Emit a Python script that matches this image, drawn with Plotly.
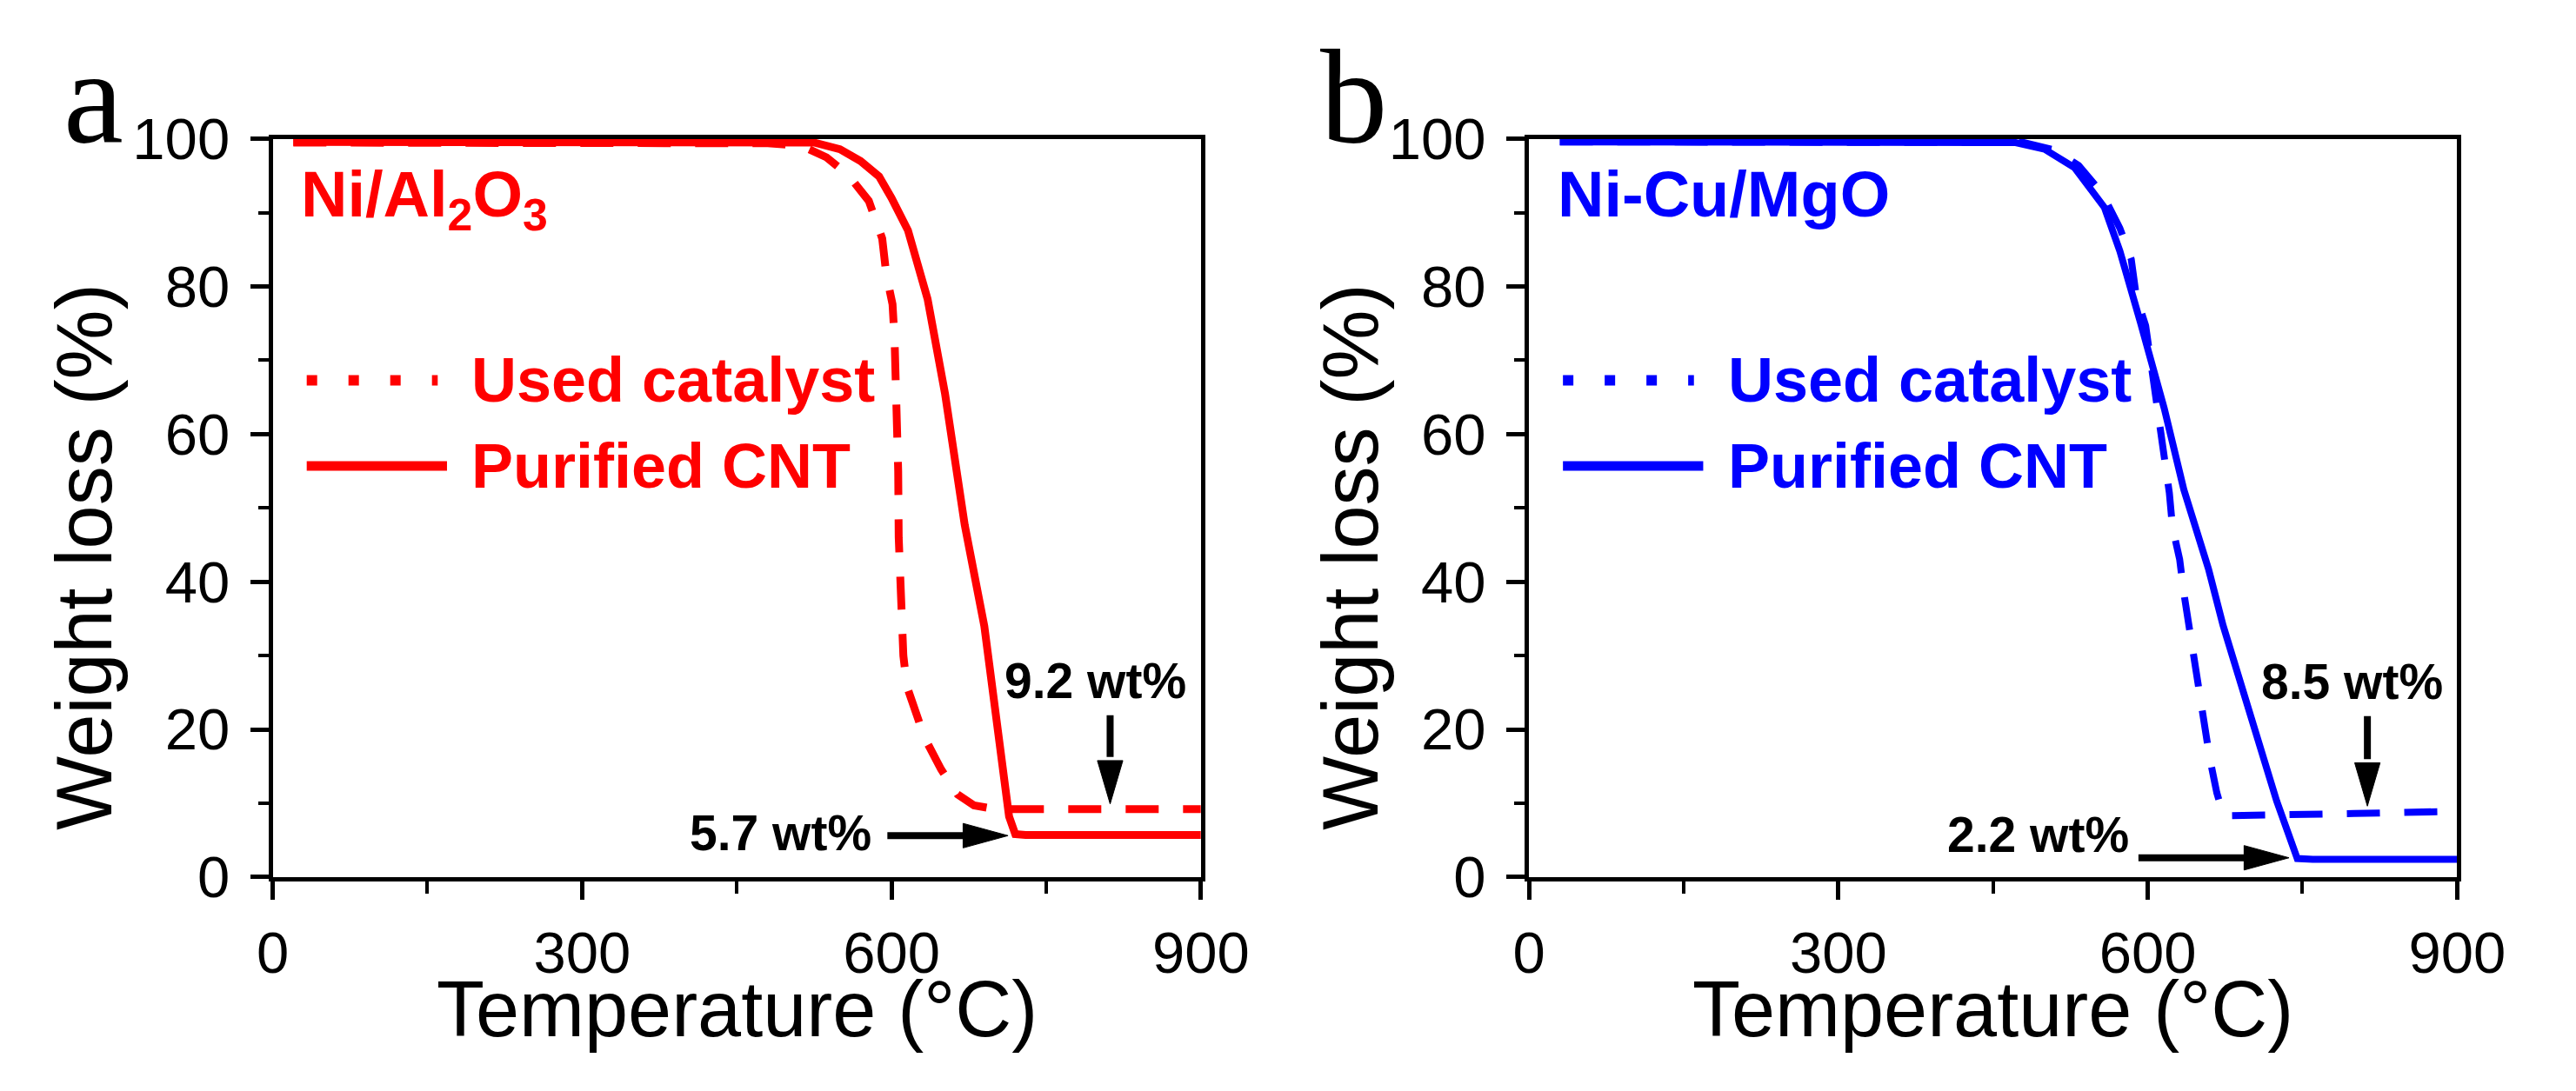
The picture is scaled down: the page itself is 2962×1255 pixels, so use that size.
import plotly.graph_objects as go

# ---------------- data ----------------
# Panel a: Ni/Al2O3
T_A_USED = [20, 300, 480, 500, 520, 537, 558, 578, 591, 595, 601, 603, 605, 606.5, 607, 609,
            611.5, 615, 620, 632, 648, 664, 680, 692, 700, 800, 900]
W_A_USED = [99.5, 99.5, 99.4, 99.2, 98.6, 97.5, 95.1, 91.6, 86.5, 81.6, 77.6, 72.8, 66, 55, 46, 39,
            30, 25.8, 23.7, 18.9, 14.6, 11.2, 9.7, 9.25, 9.2, 9.2, 9.2]
T_A_PUR = [20, 300, 480, 500, 525, 550, 570, 588, 600, 616, 635, 652, 671, 690, 714, 720, 730, 800, 900]
W_A_PUR = [99.6, 99.6, 99.6, 99.6, 99.5, 98.6, 97, 94.9, 92, 87.6, 78.3, 65.4, 47.7, 34, 8.2, 5.8, 5.7, 5.7, 5.7]

# Panel b: Ni-Cu/MgO
T_B_USED = [30, 300, 420, 480, 510, 533, 556, 573, 584, 589, 598, 605, 613, 621, 624, 631, 635, 640,
            644, 650, 654, 660, 667, 673, 677, 700, 800, 900]
W_B_USED = [99.6, 99.6, 99.6, 99.5, 98.5, 96.4, 92.6, 87.9, 83.7, 78.6, 74.7, 68, 60.8, 52, 47.4, 43, 38.5, 34.1,
            29.3, 24.9, 20.6, 16.2, 11.4, 8.6, 8.3, 8.4, 8.6, 8.9]
T_B_PUR = [30, 300, 420, 472, 500, 529, 558, 573, 593, 616, 635, 659, 673, 700, 725, 745, 760, 900]
W_B_PUR = [99.6, 99.6, 99.6, 99.5, 98.6, 96.1, 90.7, 84.8, 75.1, 63.5, 52.5, 41.7, 34.1, 21.8, 10.3, 2.5, 2.4, 2.4]

X_TICKS = [0, 300, 600, 900]
Y_TICKS = [0, 20, 40, 60, 80, 100]
SERIES_NAMES = ["Used catalyst", "Purified CNT"]
PANEL_TITLES = ["Ni/Al<sub>2</sub>O<sub>3</sub>", "Ni-Cu/MgO"]
PANEL_LETTERS = ["a", "b"]
RESIDUE_LABELS_A = ["9.2 wt%", "5.7 wt%"]
RESIDUE_LABELS_B = ["8.5 wt%", "2.2 wt%"]

# ---------------- styling ----------------
RED = "#FF0000"
BLUE = "#0000FF"
SANS = "Liberation Sans, Arial, sans-serif"
SERIF = "Liberation Serif, Times New Roman, serif"
W, H = 2962, 1255
XDOM = [[0.09926, 0.46894], [0.59959, 0.96928]]
YDOM = [0.18406, 0.90359]
PX_PER_X = (XDOM[0][1] - XDOM[0][0]) * W / 900.0
PX_PER_Y = (YDOM[1] - YDOM[0]) * H / 100.0
DASH = "38px,28px"

fig = go.Figure()

panels = [
    ("x", "y", RED, T_A_USED, W_A_USED, T_A_PUR, W_A_PUR, 9),
    ("x2", "y2", BLUE, T_B_USED, W_B_USED, T_B_PUR, W_B_PUR, 8),
]
for xr, yr, col, tu, wu, tp, wp, lw in panels:
    fig.add_trace(go.Scatter(x=tu, y=wu, mode="lines", name=SERIES_NAMES[0], showlegend=False,
                             line=dict(color=col, width=lw, dash=DASH), xaxis=xr, yaxis=yr))
    fig.add_trace(go.Scatter(x=tp, y=wp, mode="lines", name=SERIES_NAMES[1], showlegend=False,
                             line=dict(color=col, width=lw), xaxis=xr, yaxis=yr))

axis_common = dict(
    showline=True, mirror=True, linewidth=5, linecolor="black",
    ticks="outside", ticklen=21, tickwidth=5, tickcolor="black",
    showgrid=False, zeroline=False,
    tickfont=dict(family=SANS, size=67, color="black"),
)
for i in range(2):
    sfx = "" if i == 0 else str(i + 1)
    fig.layout["xaxis" + sfx] = dict(
        axis_common, domain=XDOM[i], range=[0, 900], tickvals=X_TICKS,
        anchor="y" + sfx, ticklabelstandoff=4,
        minor=dict(dtick=150, tick0=0, ticks="outside", ticklen=14, tickwidth=4, tickcolor="black"),
    )
    fig.layout["yaxis" + sfx] = dict(
        axis_common, domain=YDOM, range=[0, 100], tickvals=Y_TICKS,
        anchor="x" + sfx, ticklabelstandoff=10,
        minor=dict(dtick=10, tick0=0, ticks="outside", ticklen=12, tickwidth=4, tickcolor="black"),
    )

annotations = []
shapes = []
colors = [RED, BLUE]
labels = [RESIDUE_LABELS_A, RESIDUE_LABELS_B]
# arrow specs per panel: (x_tail, y_tail, x_tip, y_tip)
arrows = [
    [(812, 21.9, 812, 9.9), (596, 5.6, 713, 5.6)],
    [(813, 21.8, 813, 9.6), (591, 2.6, 737, 2.6)],
]
label_pos = [
    [(798, 26.6), (492, 6.0)],
    [(798, 26.5), (494, 5.8)],
]
ytitle_x = [72 / W, 1565 / W]
letter_x = [45 / W, 1528 / W]

for i in range(2):
    sfx = "" if i == 0 else str(i + 1)
    xr, yr = "x" + sfx, "y" + sfx
    col = colors[i]
    # panel letter
    annotations.append(dict(text=PANEL_LETTERS[i], xref="paper", yref="paper", x=letter_x[i], y=0.87,
                            xanchor="left", yanchor="bottom", showarrow=False,
                            font=dict(family=SERIF, size=155, color="black")))
    # axis titles
    annotations.append(dict(text="Weight loss (%)", xref="paper", yref="paper", x=ytitle_x[i], y=0.496,
                            xanchor="center", yanchor="middle", textangle=-90, showarrow=False,
                            font=dict(family=SANS, size=90, color="black")))
    annotations.append(dict(text="Temperature (°C)", xref="paper", yref="paper",
                            x=(XDOM[i][0] + XDOM[i][1]) / 2, y=0.055,
                            xanchor="center", yanchor="middle", showarrow=False,
                            font=dict(family=SANS, size=90, color="black")))
    # catalyst name
    annotations.append(dict(text="<b>" + PANEL_TITLES[i] + "</b>", xref=xr, yref=yr, x=26, y=97.6,
                            xanchor="left", yanchor="top", showarrow=False,
                            font=dict(family=SANS, size=74, color=col)))
    # legend
    for j, (yy, dash, x_end) in enumerate([(67.3, "12px,36px", 160), (55.7, None, 169)]):
        line = dict(color=col, width=12 if j == 0 else 11)
        if dash:
            line["dash"] = dash
        shapes.append(dict(type="line", xref=xr, yref=yr, x0=33, x1=x_end, y0=yy, y1=yy, line=line))
        annotations.append(dict(text="<b>" + SERIES_NAMES[j] + "</b>", xref=xr, yref=yr, x=191, y=yy,
                                xanchor="left", yanchor="middle", showarrow=False,
                                font=dict(family=SANS, size=72, color=col)))
    # residue labels
    for j in range(2):
        lx, ly = label_pos[i][j]
        annotations.append(dict(text="<b>" + labels[i][j] + "</b>", xref=xr, yref=yr, x=lx, y=ly,
                                xanchor="center", yanchor="middle", showarrow=False,
                                font=dict(family=SANS, size=57, color="black")))
    # arrows (shaft + filled head)
    head_len_px, head_half_px = 53, 15
    for (xt, yt, xp, yp) in arrows[i]:
        if xt == xp:  # vertical, pointing down
            hl = head_len_px / PX_PER_Y
            hw = head_half_px / PX_PER_X
            yb = yp + hl
            shapes.append(dict(type="line", xref=xr, yref=yr, x0=xt, x1=xt, y0=yt, y1=yb + 0.5,
                               line=dict(color="black", width=8)))
            path = f"M {xp - hw},{yb} L {xp + hw},{yb} L {xp},{yp} Z"
        else:  # horizontal, pointing right
            hl = head_len_px / PX_PER_X
            hw = head_half_px / PX_PER_Y
            xb = xp - hl
            shapes.append(dict(type="line", xref=xr, yref=yr, x0=xt, x1=xb + 2, y0=yt, y1=yt,
                               line=dict(color="black", width=8)))
            path = f"M {xb},{yp - hw} L {xb},{yp + hw} L {xp},{yp} Z"
        shapes.append(dict(type="path", xref=xr, yref=yr, path=path, fillcolor="black",
                           line=dict(color="black", width=1)))

fig.update_layout(
    width=W, height=H,
    margin=dict(l=0, r=0, t=0, b=0),
    paper_bgcolor="white", plot_bgcolor="white",
    showlegend=False,
    annotations=annotations,
    shapes=shapes,
)

fig.write_html("out.html")
